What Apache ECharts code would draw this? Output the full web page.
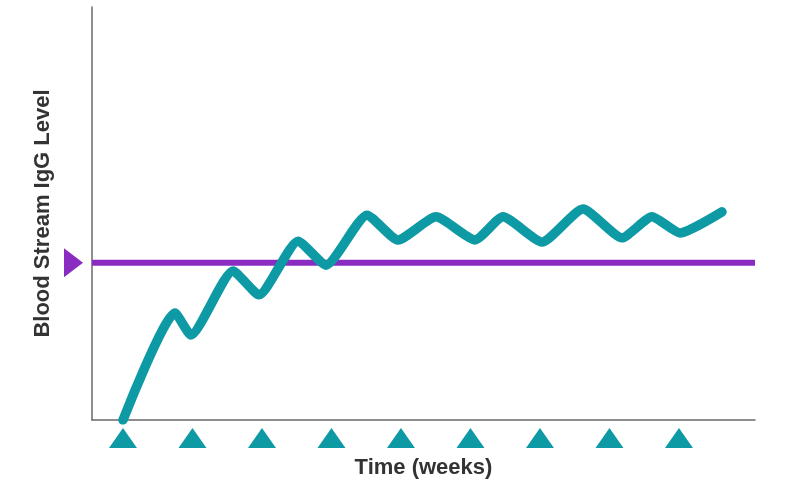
<!DOCTYPE html>
<html>
<head>
<meta charset="utf-8">
<script src="https://cdn.jsdelivr.net/npm/echarts@6/dist/echarts.min.js"></script>
<style>html,body{margin:0;padding:0;background:#fff}#chart{width:800px;height:484px}</style>
</head>
<body>
<div id="chart"></div>
<script>
// Time in weeks (doses at integer weeks), IgG level in arbitrary units (0-100)
const igWeeks  = [1.0, 1.748, 1.978, 2.583, 2.957, 3.518, 3.921, 4.511, 4.957, 5.504, 6.065, 6.468, 7.029, 7.619, 8.180, 8.612, 9.014, 9.619];
const igLevels = [0, 25.9, 20.6, 36.1, 30.3, 43.3, 37.5, 49.6, 43.6, 49.2, 43.6, 49.2, 43.1, 51.1, 44.1, 49.2, 45.3, 50.4];
const doseWeeks = [1, 2, 3, 4, 5, 6, 7, 8, 9];
const thresholdLevel = 38.1;
const xMin = 0.554, xMax = 10.094;
const markerWeek = 0.288;

const teal = '#0e9aa5';
const purple = '#8a2cc2';
const font = '"Liberation Sans", Arial, sans-serif';

const chart = echarts.init(document.getElementById('chart'));
chart.setOption({
  animation: false,
  backgroundColor: '#fff',
  grid: [
    { left: 92, width: 663, top: 7, height: 413 },
    { left: 92, width: 663, top: 428, height: 20 }
  ],
  xAxis: [
    { type: 'value', gridIndex: 0, min: xMin, max: xMax,
      axisLine: { show: true, lineStyle: { color: '#6a6a6a', width: 1.5 } },
      axisTick: { show: false }, axisLabel: { show: false }, splitLine: { show: false },
      name: 'Time (weeks)', nameLocation: 'middle', nameGap: 37,
      nameTextStyle: { fontFamily: font, fontWeight: 'bold', fontSize: 22, color: '#333' } },
    { type: 'value', gridIndex: 1, min: xMin, max: xMax, show: false }
  ],
  yAxis: [
    { type: 'value', gridIndex: 0, min: 0, max: 100,
      axisLine: { show: true, lineStyle: { color: '#6a6a6a', width: 1.5 } },
      axisTick: { show: false }, axisLabel: { show: false }, splitLine: { show: false },
      name: 'Blood Stream IgG Level', nameLocation: 'middle', nameGap: 38,
      nameTextStyle: { fontFamily: font, fontWeight: 'bold', fontSize: 22, color: '#333' } },
    { type: 'value', gridIndex: 1, min: 0, max: 1, show: false }
  ],
  series: [
    { type: 'line', xAxisIndex: 0, yAxisIndex: 0, symbol: 'none',
      data: [[xMin, thresholdLevel], [xMax, thresholdLevel]],
      lineStyle: { color: purple, width: 6 }, z: 2 },
    { type: 'scatter', xAxisIndex: 0, yAxisIndex: 0, clip: false,
      symbol: 'triangle', symbolSize: [29, 19], symbolRotate: -90,
      data: [[markerWeek, thresholdLevel]], itemStyle: { color: purple, opacity: 1 }, z: 3 },
    { type: 'line', xAxisIndex: 0, yAxisIndex: 0, symbol: 'none', smooth: 0.18,
      data: igWeeks.map((w, i) => [w, igLevels[i]]),
      lineStyle: { color: teal, width: 9.5, cap: 'round', join: 'round' }, z: 4 },
    { type: 'scatter', xAxisIndex: 1, yAxisIndex: 1, clip: false,
      symbol: 'triangle', symbolSize: [28, 20],
      data: doseWeeks.map(w => [w, 0.5]), itemStyle: { color: teal, opacity: 1 }, z: 3 }
  ]
});
</script>
</body>
</html>
